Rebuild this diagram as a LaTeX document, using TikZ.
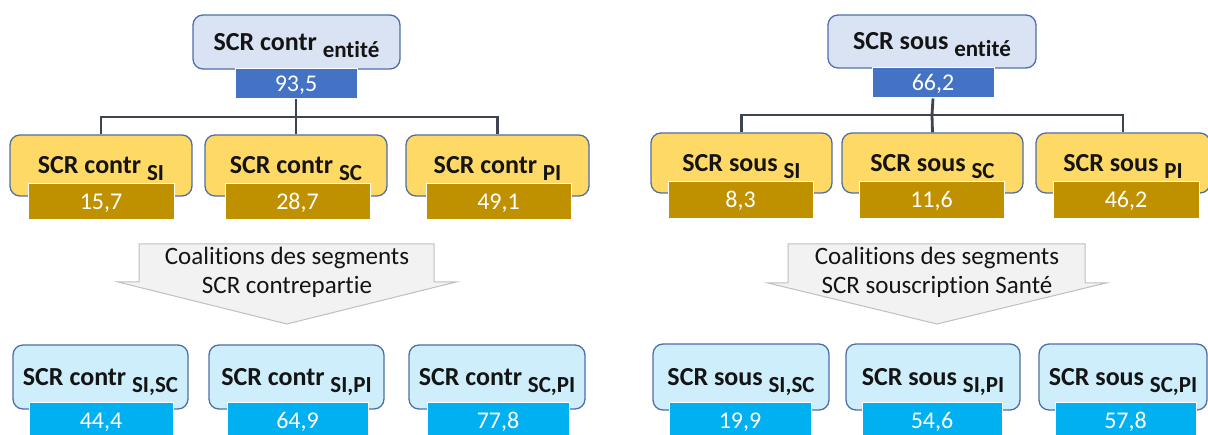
\documentclass[tikz,border=0pt]{standalone}
\usepackage{fontspec}
\setmainfont{Carlito}[Ligatures=NoCommon]
\definecolor{bordc}{HTML}{4E6FA6}
\definecolor{topfill}{HTML}{DAE3F3}
\definecolor{topval}{HTML}{4472C4}
\definecolor{yfill}{HTML}{FFD966}
\definecolor{yval}{HTML}{BF9000}
\definecolor{cfill}{HTML}{CDEEFA}
\definecolor{cval}{HTML}{00B0F0}
\definecolor{linec}{HTML}{3E4450}
\definecolor{arrfill}{HTML}{F2F2F2}
\definecolor{arrline}{HTML}{BFBFBF}
\definecolor{txt}{HTML}{141414}
\newcommand\lowsub[1]{\raisebox{-7pt}{\fontsize{23}{23}\selectfont #1}}
\tikzset{
  lab/.style={rounded corners=10pt, draw=bordc, line width=1.3pt,
    font=\fontsize{26}{30}\selectfont\bfseries, text=txt,
    text height=16.5pt, text depth=0pt, inner sep=0pt},
  topbox/.style={lab, fill=topfill},
  ybox/.style={lab, fill=yfill},
  cbox/.style={lab, fill=cfill},
  val/.style={draw=white, line width=1pt, inner sep=0pt, text=white,
    font=\fontsize{24}{28}\selectfont, text height=15pt, text depth=0pt},
  topval/.style={val, fill=topval},
  yval/.style={val, fill=yval},
  cval/.style={val, fill=cval},
  conn/.style={draw=linec, line width=2.8pt},
  arrowshape/.style={fill=arrfill, draw=arrline, line width=1pt},
  arrtext/.style={font=\fontsize{25}{29}\selectfont, text=txt, anchor=base, inner sep=0pt}
}
\begin{document}
\begin{tikzpicture}[x=1pt,y=-1pt]
\useasboundingbox (0,0) rectangle (1208,435);
\clip (0,0) rectangle (1208,435);

% ===== LEFT =====
\node[topbox, minimum width=207pt, minimum height=54pt] (L0) at (296.5,42) {SCR contr \lowsub{entité}};
\node[topval, minimum width=122pt, minimum height=30pt] (L0v) at (296,84) {93,5};

\coordinate (Lj) at (296,117);
\node[ybox, minimum width=182pt, minimum height=61pt] (L1) at (101,165.5) {SCR contr \lowsub{SI}};
\node[ybox, minimum width=182pt, minimum height=61pt] (L2) at (296,165.5) {SCR contr \lowsub{SC}};
\node[ybox, minimum width=183pt, minimum height=61pt] (L3) at (497.5,165.5) {SCR contr \lowsub{PI}};
\draw[conn] (L0v.south) -- (Lj);
\draw[conn] (L1.north) |- (Lj) -| (L3.north);
\draw[conn] (Lj) -- (L2.north);
\node[yval, minimum width=146pt, minimum height=36pt] (L1v) at (101,202) {15,7};
\node[yval, minimum width=145pt, minimum height=36pt] (L2v) at (297.5,202) {28,7};
\node[yval, minimum width=145pt, minimum height=36pt] (L3v) at (498.5,202) {49,1};

\draw[arrowshape] (139,244) -- (434,244) -- (434,282) -- (456,282) -- (287,324) -- (118,282) -- (139,282) -- cycle;
\node[arrtext] (La1) at (287,265) {Coalitions des segments};
\node[arrtext] (La2) at (287,294) {SCR contrepartie};

\node[cbox, minimum width=175pt, minimum height=64pt] (L4) at (100.5,377) {SCR contr \lowsub{SI,SC}};
\node[cbox, minimum width=175pt, minimum height=64pt] (L5) at (296.5,377) {SCR contr \lowsub{SI,PI}};
\node[cbox, minimum width=176pt, minimum height=64pt] (L6) at (497,377) {SCR contr \lowsub{SC,PI}};
\node[cval, minimum width=144pt, minimum height=36pt] (L4v) at (101,421) {44,4};
\node[cval, minimum width=141pt, minimum height=36pt] (L5v) at (297.5,421) {64,9};
\node[cval, minimum width=142pt, minimum height=36pt] (L6v) at (498,421) {77,8};

% ===== RIGHT =====
\node[topbox, minimum width=208pt, minimum height=53pt] (R0) at (932,41.5) {SCR sous \lowsub{entité}};
\node[topval, minimum width=122pt, minimum height=30pt] (R0v) at (933,83) {66,2};

\coordinate (Rj) at (932,115);
\node[ybox, minimum width=181pt, minimum height=60pt] (R1) at (741.5,163) {SCR sous \lowsub{SI}};
\node[ybox, minimum width=181pt, minimum height=60pt] (R2) at (932.5,163) {SCR sous \lowsub{SC}};
\node[ybox, minimum width=174pt, minimum height=60pt] (R3) at (1123,163) {SCR sous \lowsub{PI}};
\draw[conn] (R0v.south) -- (Rj);
\draw[conn] (R1.north) |- (Rj) -| (R3.north);
\draw[conn] (Rj) -- (R2.north);
\node[yval, minimum width=145pt, minimum height=37pt] (R1v) at (740.5,200.5) {8,3};
\node[yval, minimum width=145pt, minimum height=37pt] (R2v) at (931.5,200.5) {11,6};
\node[yval, minimum width=146pt, minimum height=37pt] (R3v) at (1126,200.5) {46,2};

\draw[arrowshape] (788,244) -- (1085,244) -- (1085,283) -- (1106,283) -- (937,324) -- (768,283) -- (788,283) -- cycle;
\node[arrtext] (Ra1) at (937,265) {Coalitions des segments};
\node[arrtext] (Ra2) at (937,294) {SCR souscription Santé};

\node[cbox, minimum width=176pt, minimum height=66pt] (R4) at (741,377) {SCR sous \lowsub{SI,SC}};
\node[cbox, minimum width=174pt, minimum height=66pt] (R5) at (933,377) {SCR sous \lowsub{SI,PI}};
\node[cbox, minimum width=168pt, minimum height=66pt] (R6) at (1123,377) {SCR sous \lowsub{SC,PI}};
\node[cval, minimum width=142pt, minimum height=36pt] (R4v) at (740,421) {19,9};
\node[cval, minimum width=140pt, minimum height=36pt] (R5v) at (932,421) {54,6};
\node[cval, minimum width=141pt, minimum height=36pt] (R6v) at (1125.5,421) {57,8};
\end{tikzpicture}
\end{document}
